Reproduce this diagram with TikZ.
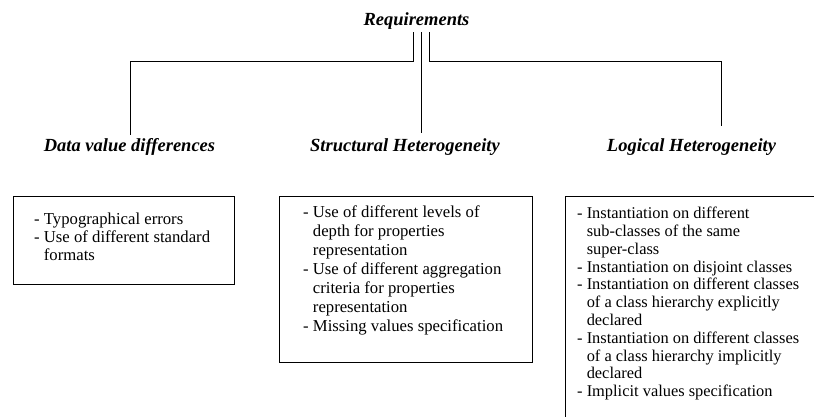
\documentclass[tikz,border=0pt]{standalone}
\usepackage{fontspec}
\setmainfont{Liberation Serif}
\begin{document}
\begin{tikzpicture}[x=1pt,y=-1pt,
  head/.style={font=\fontsize{18.5}{20}\selectfont\bfseries\itshape, inner sep=0pt, anchor=base},
  boxframe/.style={draw, line width=1pt, anchor=north west, inner sep=0pt},
  itemtext/.style={align=left, anchor=north west, inner sep=0pt},
  link/.style={line width=0.9pt}]
\useasboundingbox (0,0) rectangle (814,417);
% title and headings
\node[head, inner sep=2pt] (req) at (416.5,26) {Requirements};
\node[head] (h1) at (129.5,152) {Data value differences};
\node[head] (h2) at (405,152) {Structural Heterogeneity};
\node[head] (h3) at (691.5,152) {Logical Heterogeneity};
% connectors
\coordinate (c1) at (413,61.5);
\coordinate (e1) at (130.5,135);
\coordinate (e2) at (421.7,133);
\coordinate (c3) at (429,61);
\coordinate (e3) at (721,126);
\draw[link] (req.south -| c1) -- (c1) -| (e1);
\draw[link] (req.south -| e2) -- (e2);
\draw[link] (req.south -| c3) -- (c3) -| (e3);
% boxes
\node[boxframe, minimum width=221pt, minimum height=88pt] (b1) at (13,196) {};
\node[boxframe, minimum width=253pt, minimum height=166pt] (b2) at (279,196) {};
\begin{scope}
\clip (0,0) rectangle (814,417);
\node[boxframe, minimum width=270pt, minimum height=250pt] (b3) at (565,196) {};
\end{scope}
% box texts
\node[itemtext, font=\fontsize{16.7}{18}\selectfont] (t1) at (34,212.3) {%
- Typographical errors\\
- Use of different standard\\
\phantom{- }formats};
\node[itemtext, font=\fontsize{16.7}{18.9}\selectfont] (t2) at (303,205.8) {%
- Use of different levels of\\
\phantom{- }depth for properties\\
\phantom{- }representation\\
- Use of different aggregation\\
\phantom{- }criteria for properties\\
\phantom{- }representation\\
- Missing values specification};
\node[itemtext, font=\fontsize{16.4}{17.8}\selectfont] (t3) at (577,207) {%
- Instantiation on different\\
\phantom{- }sub-classes of the same\\
\phantom{- }super-class\\
- Instantiation on disjoint classes\\
- Instantiation on different classes\\
\phantom{- }of a class hierarchy explicitly\\
\phantom{- }declared\\
- Instantiation on different classes\\
\phantom{- }of a class hierarchy implicitly\\
\phantom{- }declared\\
- Implicit values specification};
\end{tikzpicture}
\end{document}
